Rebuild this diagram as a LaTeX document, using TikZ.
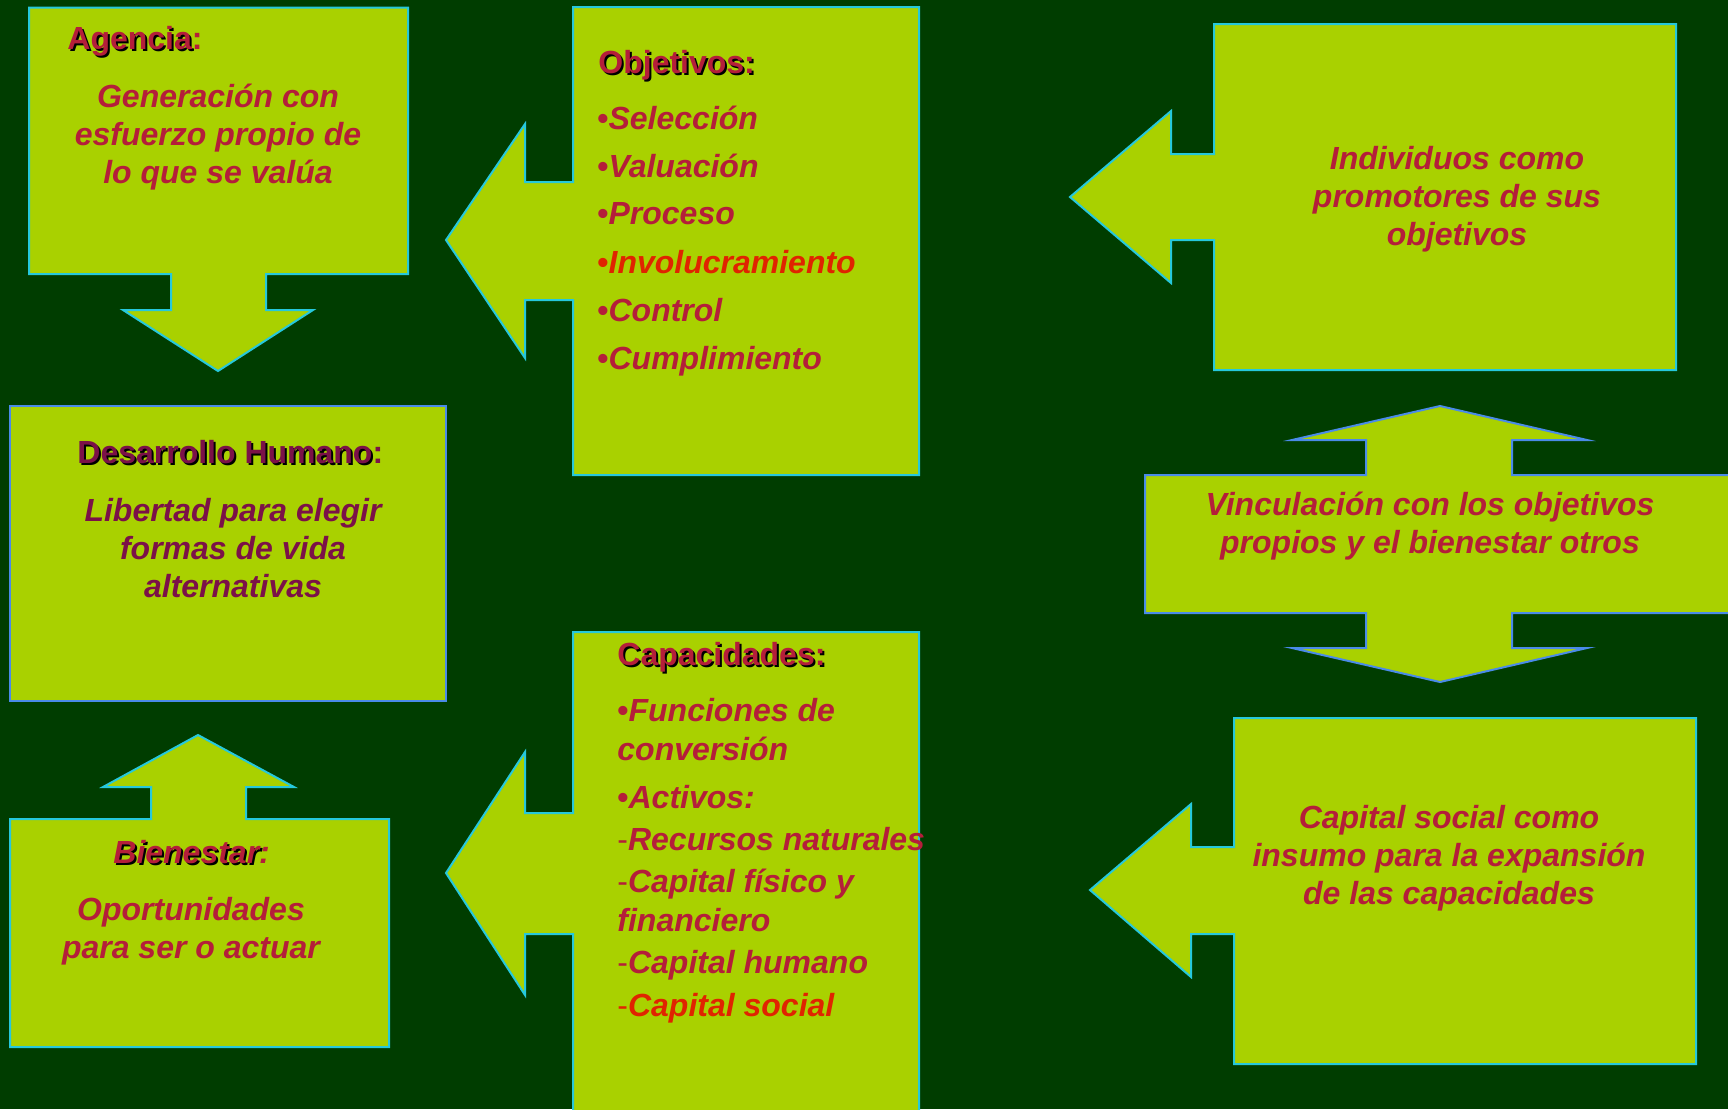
\documentclass[tikz,border=0pt]{standalone}
\usepackage{fontspec}
\setmainfont{Liberation Sans}
\definecolor{bgdark}{HTML}{003D00}
\definecolor{panelfill}{HTML}{A9D100}
\definecolor{edgecyan}{HTML}{26C8DC}
\definecolor{edgeblue}{HTML}{4A8BE8}
\definecolor{textred}{HTML}{B41E3A}
\definecolor{textpurple}{HTML}{7B1148}
\definecolor{textbright}{HTML}{E02400}
\newcommand\shadowword[1]{\makebox[0pt][l]{\kern1pt\raisebox{-1pt}{\color{black}#1}}#1}
\newcommand\thindash{{\mdseries\upshape -}}
\tikzset{
  panel/.style={fill=panelfill, draw=edgecyan, line width=1pt, line join=miter},
  panelblue/.style={panel, draw=edgeblue},
  bodytext/.style={font=\bfseries\itshape\fontsize{16}{19}\selectfont, text=textred, align=center, inner sep=0pt, anchor=base},
  headtext/.style={font=\bfseries\fontsize{16}{19}\selectfont, text=textred, inner sep=0pt, anchor=base west},
  itemtext/.style={font=\bfseries\itshape\fontsize{16}{19.5}\selectfont, text=textred, inner sep=0pt, anchor=base west, align=left},
}
\begin{document}
\begin{tikzpicture}[x=0.5pt,y=-0.5pt]
    \useasboundingbox[fill=bgdark] (0,0) rectangle (1728,1109);

    % Agencia, arrow down
    \filldraw[panel] (29,7.5) -- (408,7.5) -- (408,274) -- (266,274) -- (266,310) -- (313,310) -- (218,371)
        -- (123,310) -- (171,310) -- (171,274) -- (29,274) -- cycle;
    \node[headtext] (agencia) at (67,49) {\shadowword{Agencia}:};
    \node[bodytext] (agenciatxt) at (218,183) {Generación con\\esfuerzo propio de\\lo que se valúa};

    % Objetivos, arrow left
    \filldraw[panel] (573,7) -- (919,7) -- (919,475) -- (573,475) -- (573,300) -- (525,300) -- (525,358)
        -- (446,240) -- (525,124) -- (525,182) -- (573,182) -- cycle;
    \node[headtext] (objetivos) at (598,73) {\shadowword{Objetivos:}};
    \node[itemtext] (sel) at (597,129) {{\upshape•}Selección};
    \node[itemtext] (val) at (597,177) {{\upshape•}Valuación};
    \node[itemtext] (pro) at (597,224) {{\upshape•}Proceso};
    \node[itemtext, text=textbright] (inv) at (597,273) {{\upshape•}Involucramiento};
    \node[itemtext] (con) at (597,321) {{\upshape•}Control};
    \node[itemtext] (cum) at (597,369) {{\upshape•}Cumplimiento};

    % Individuos, arrow left
    \filldraw[panel] (1214,24) -- (1676,24) -- (1676,370) -- (1214,370) -- (1214,240) -- (1171,240) -- (1171,283)
        -- (1070,197) -- (1171,111) -- (1171,154) -- (1214,154) -- cycle;
    \node[bodytext] (individuos) at (1457,245) {Individuos como\\promotores de sus\\objetivos};

    % Desarrollo Humano
    \filldraw[panelblue] (10,406) rectangle (446,701);
    \node[headtext, text=textpurple] (desarrollo) at (77,463) {\shadowword{Desarrollo Humano}:};
    \node[bodytext, text=textpurple] (desarrollotxt) at (233,597) {Libertad para elegir\\formas de vida\\alternativas};

    % Bienestar, arrow up
    \filldraw[panel] (10,819) -- (151,819) -- (151,787) -- (103,787) -- (198,735) -- (294,787) -- (246,787)
        -- (246,819) -- (389,819) -- (389,1047) -- (10,1047) -- cycle;
    \node[headtext, font=\bfseries\itshape\fontsize{16}{19}\selectfont] (bienestar) at (113,863) {\shadowword{Bienestar}:};
    \node[bodytext] (bienestartxt) at (191,958) {Oportunidades\\para ser o actuar};

    % Capacidades, arrow left
    \filldraw[panel] (573,632) -- (919,632) -- (919,1115) -- (573,1115) -- (573,934) -- (525,934) -- (525,995)
        -- (446,873) -- (525,752) -- (525,813) -- (573,813) -- cycle;
    \node[headtext] (capacidades) at (617,665) {\shadowword{Capacidades:}};
    \node[itemtext] (fun) at (617,760) {{\upshape•}Funciones de\\conversión};
    \node[itemtext] (act) at (617,808) {{\upshape•}Activos:};
    \node[itemtext] (rec) at (617,850) {\thindash Recursos naturales};
    \node[itemtext] (fis) at (617,931) {\thindash Capital físico y\\financiero};
    \node[itemtext] (hum) at (617,973) {\thindash Capital humano};
    \node[itemtext, text=textbright] (soc) at (617,1016) {\thindash Capital social};

    % Vinculacion, double arrow
    \filldraw[panelblue] (1145,475) -- (1366,475) -- (1366,440) -- (1292,440) -- (1440,406) -- (1587,440)
        -- (1512,440) -- (1512,475) -- (1740,475) -- (1740,613) -- (1512,613) -- (1512,648) -- (1587,648)
        -- (1440,682) -- (1292,648) -- (1366,648) -- (1366,613) -- (1145,613) -- cycle;
    \node[bodytext] (vinculacion) at (1430,553) {Vinculación con los objetivos\\propios y el bienestar otros};

    % Capital social, arrow left
    \filldraw[panel] (1234,718) -- (1696,718) -- (1696,1064) -- (1234,1064) -- (1234,934) -- (1191,934) -- (1191,977)
        -- (1090,890) -- (1191,804) -- (1191,847) -- (1234,847) -- cycle;
    \node[bodytext] (capsocial) at (1449,904) {Capital social como\\insumo para la expansión\\de las capacidades};
\end{tikzpicture}
\end{document}
